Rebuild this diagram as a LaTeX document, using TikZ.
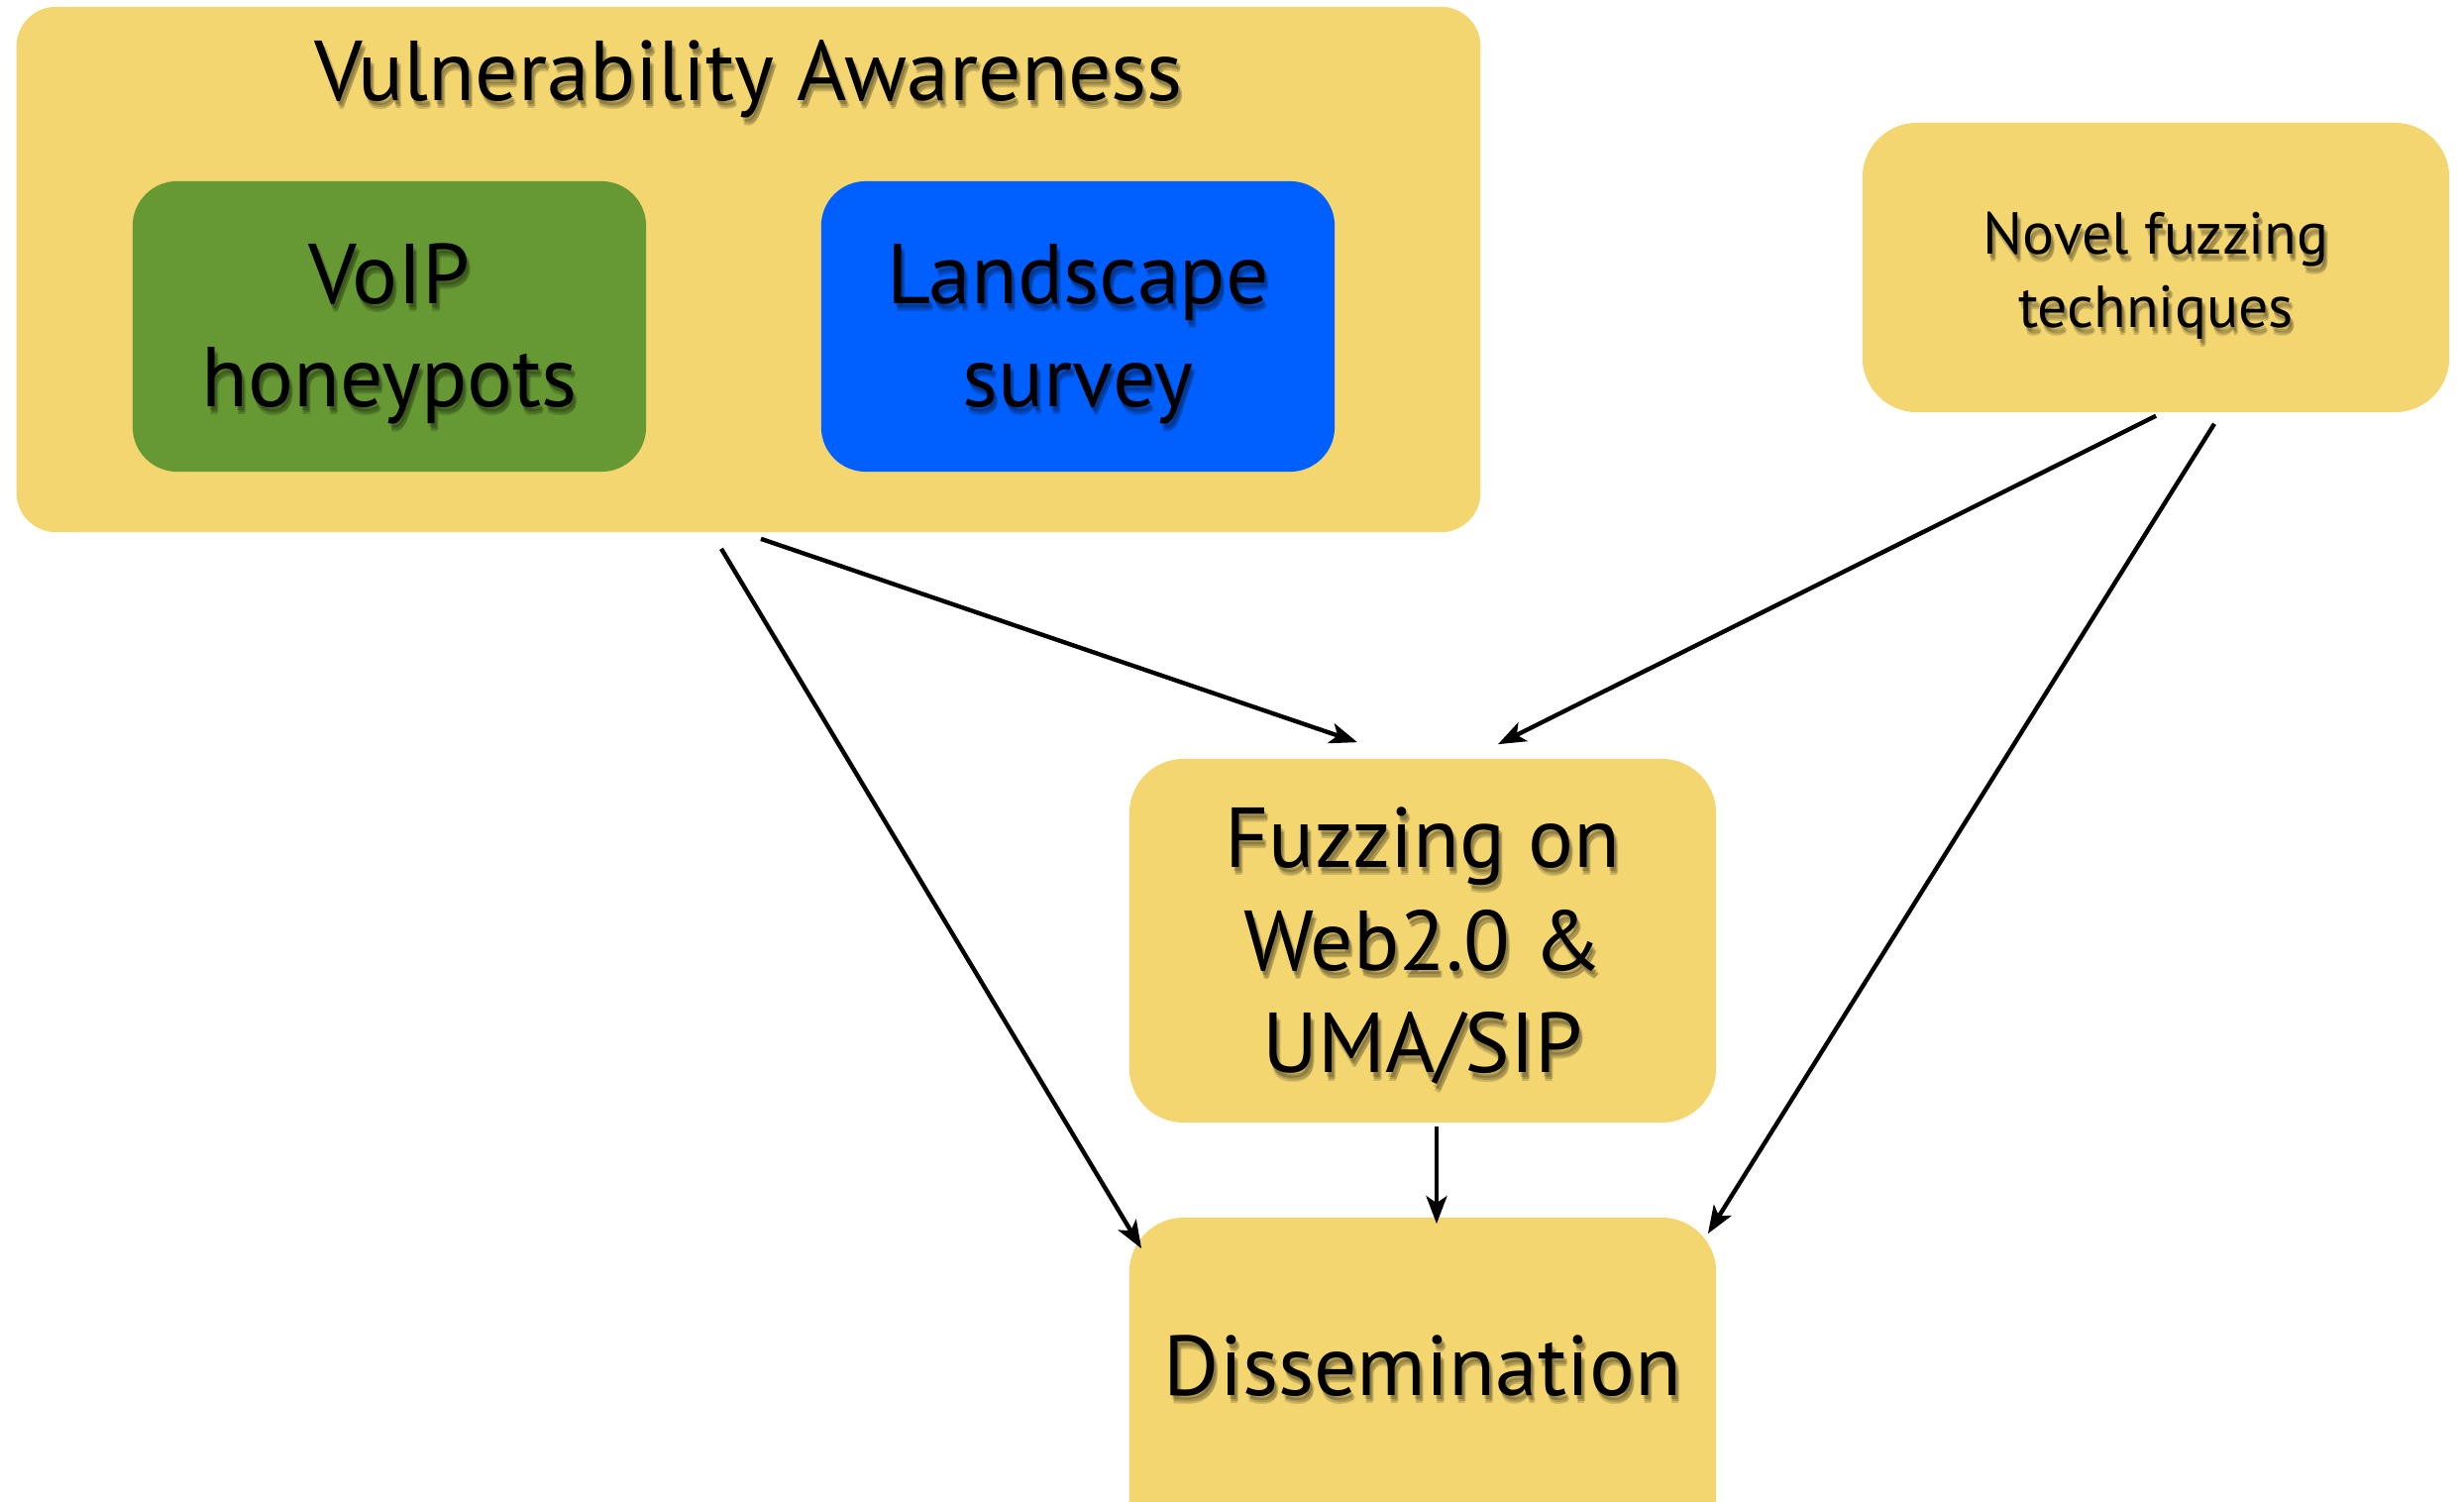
\documentclass[tikz,border=0pt]{standalone}
\usepackage{fontspec}
\setmainfont{PT Sans}
\usetikzlibrary{arrows.meta,calc}
\definecolor{note}{RGB}{243,214,112}
\definecolor{leaf}{RGB}{102,153,51}
\definecolor{sky}{RGB}{0,96,255}

% text line with a soft drop shadow: #1 name, #2 position, #3 style, #4 text
\newcommand\shadowline[4]{%
  \foreach \dx/\dy in {2/4,4/6,3/8}
    \node[txt,#3,text=black,opacity=0.16] (#1s\dx\dy) at ($(#2)+(\dx,\dy)$) {#4};
  \node[txt,#3] (#1) at (#2) {#4};
}

\begin{document}
\begin{tikzpicture}[x=0.01cm,y=-0.01cm,
  panel/.style={rectangle,inner sep=0pt,fill=note,rounded corners=#1},
  txt/.style={anchor=base,inner sep=0pt},
  big/.style={font=\fontsize{24.4}{29}\selectfont},
  small/.style={font=\fontsize{17}{20}\selectfont},
  conn/.style={line width=1.25pt,-{Stealth[length=0.28cm,width=0.21cm,inset=0.07cm]}}]
\useasboundingbox (0,0) rectangle (2487,1516);
\clip (0,0) rectangle (2487,1516);

% boxes
\node[panel=0.4cm,minimum width=14.77cm,minimum height=5.30cm] (va) at (755.5,272) {};
\node[panel=0.45cm,fill=leaf,minimum width=5.18cm,minimum height=2.93cm] (voip) at (393,329.5) {};
\node[panel=0.45cm,fill=sky,minimum width=5.18cm,minimum height=2.93cm] (land) at (1088,329.5) {};
\node[panel=0.55cm,minimum width=5.92cm,minimum height=2.92cm] (novel) at (2176,270) {};
\node[panel=0.55cm,minimum width=5.92cm,minimum height=3.67cm] (fuzz) at (1436,949.5) {};
\node[panel=0.55cm,minimum width=5.92cm,minimum height=3.60cm] (diss) at (1436,1409) {};

% labels
\shadowline{vaT}{755.5,102}{big}{Vulnerability Awareness}
\shadowline{voipA}{393,307}{big}{VoIP}
\shadowline{voipB}{393,411}{big}{honeypots}
\shadowline{landA}{1088,307}{big}{Landscape}
\shadowline{landB}{1088,411}{big}{survey}
\shadowline{novelA}{2176,257}{small}{Novel fuzzing}
\shadowline{novelB}{2176,331}{small}{techniques}
\shadowline{fuzzA}{1436,876}{big}{Fuzzing on}
\shadowline{fuzzB}{1436,980}{big}{Web2.0 \&}
\shadowline{fuzzC}{1436,1083}{big}{UMA/SIP}
\shadowline{dissT}{1436,1408}{big}{Dissemination}

% connectors
\draw[conn] ($(va.south)+(12.5,6)$) -- ($(fuzz.north)+(-66,-16)$);
\draw[conn] ($(va.south)+(-27.5,16)$) -- ($(diss.north west)+(13,32)$);
\draw[conn] ($(novel.south)+(0,3)$) -- ($(fuzz.north)+(76,-14)$);
\draw[conn] ($(novel.south)+(59,11)$) -- ($(diss.north east)+(-9,17)$);
\draw[conn] ($(fuzz.south)+(14,3)$) -- ($(diss.north)+(14,7)$);
\end{tikzpicture}
\end{document}
